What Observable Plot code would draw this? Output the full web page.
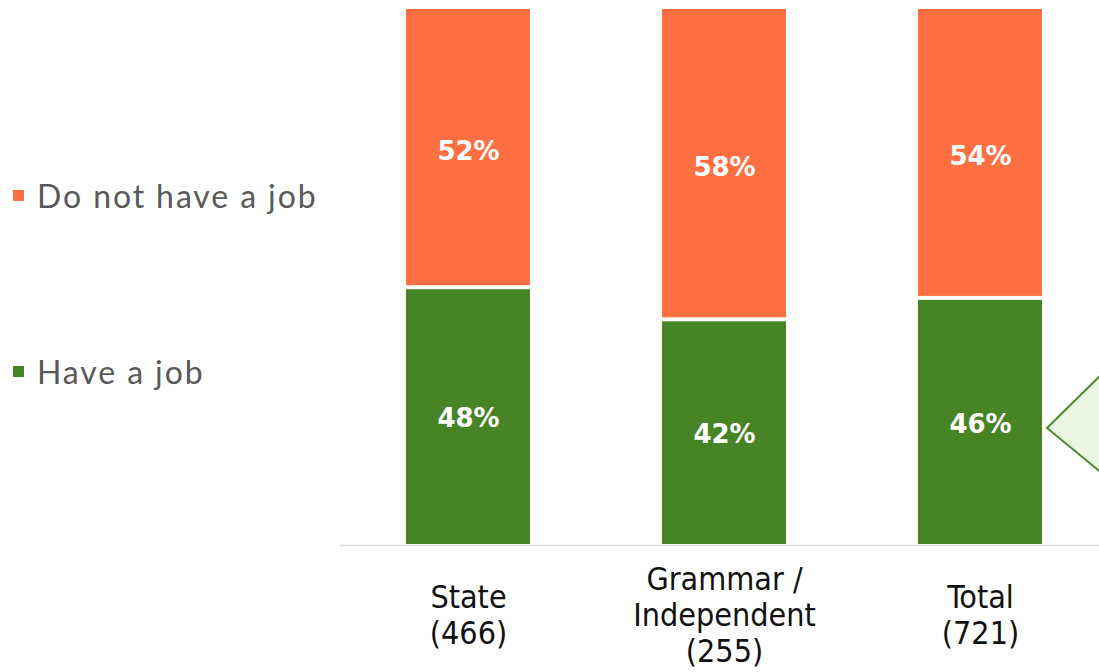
<!DOCTYPE html>
<html>
<head>
<meta charset="utf-8">
<script src="https://cdn.jsdelivr.net/npm/d3@7"></script>
<script src="https://cdn.jsdelivr.net/npm/@observablehq/plot@0.6"></script>
<style>
  html, body { margin: 0; padding: 0; background: #fff; overflow: hidden; }
  #wrap { position: relative; width: 1099px; height: 672px; }
  .legend { position: absolute; left: 13px; font-family: "Lato", "DejaVu Sans", sans-serif; font-size: 32px; letter-spacing: 1.9px; color: #595959; display: flex; align-items: center; white-space: nowrap; }
  .legend .sw { width: 11px; height: 11px; margin-right: 13px; display: inline-block; }
  #callout { position: absolute; left: 0; top: 0; pointer-events: none; }
</style>
</head>
<body>
<div id="wrap"></div>
<script>
const categories = ["State", "Grammar / Independent", "Total"];
const tickLabels = ["State\n(466)", "Grammar /\nIndependent\n(255)", "Total\n(721)"];
const haveJob = [48, 42, 46];
const noJob = [52, 58, 54];
const seriesNames = ["Do not have a job", "Have a job"];
const seriesColors = ["#FF6F41", "#468426"];

const rows = categories.map((c, i) => ({cat: c, label: tickLabels[i], have: haveJob[i], not: noJob[i]}));

const chart = Plot.plot({
  width: 1099,
  height: 672,
  marginTop: 9,
  marginBottom: 128,
  marginLeft: 340,
  marginRight: 0,
  style: {background: "transparent", overflow: "visible"},
  x: {type: "band", domain: categories, range: [340, 1108], paddingInner: 0.516, paddingOuter: 0.258, axis: null},
  y: {domain: [0, 100], axis: null},
  marks: [
    Plot.barY(rows, {x: "cat", y1: 0, y2: "have", fill: seriesColors[1], insetTop: 2}),
    Plot.barY(rows, {x: "cat", y1: "have", y2: 100, fill: seriesColors[0], insetBottom: 2}),
    Plot.ruleY([0], {stroke: "#d9d9d9", strokeWidth: 1.5, dy: 1}),
    Plot.text(rows, {x: "cat", y: d => d.have / 2, text: d => d.have + "%", dy: 3, fill: "white", fontWeight: "bold", fontSize: 26, fontFamily: "DejaVu Sans, sans-serif"}),
    Plot.text(rows, {x: "cat", y: d => d.have + d.not / 2, text: d => d.not + "%", dy: 3, fill: "white", fontWeight: "bold", fontSize: 26, fontFamily: "DejaVu Sans, sans-serif"}),
    Plot.text(rows, {x: "cat", text: "label", frameAnchor: "bottom", dy: 70, lineAnchor: "middle", lineHeight: 1.12, fontSize: 32, fill: "#111", fontFamily: "DejaVu Sans Condensed, Roboto, sans-serif"})
  ]
});

const wrap = document.getElementById("wrap");
wrap.appendChild(chart);

const legendTops = [195, 371];
seriesNames.forEach((name, i) => {
  const el = document.createElement("div");
  el.className = "legend";
  el.style.top = (legendTops[i] - 20) + "px";
  el.style.height = "40px";
  const sw = document.createElement("span");
  sw.className = "sw";
  sw.style.background = seriesColors[i];
  el.appendChild(sw);
  el.appendChild(document.createTextNode(name));
  wrap.appendChild(el);
});

const ns = "http://www.w3.org/2000/svg";
const svg = document.createElementNS(ns, "svg");
svg.setAttribute("id", "callout");
svg.setAttribute("width", "1099");
svg.setAttribute("height", "672");
const poly = document.createElementNS(ns, "polygon");
poly.setAttribute("points", "1047,428 1103,373 1103,474");
poly.setAttribute("fill", "#EBF7E4");
poly.setAttribute("stroke", "#4A8A2A");
poly.setAttribute("stroke-width", "2");
svg.appendChild(poly);
wrap.appendChild(svg);
</script>
</body>
</html>
